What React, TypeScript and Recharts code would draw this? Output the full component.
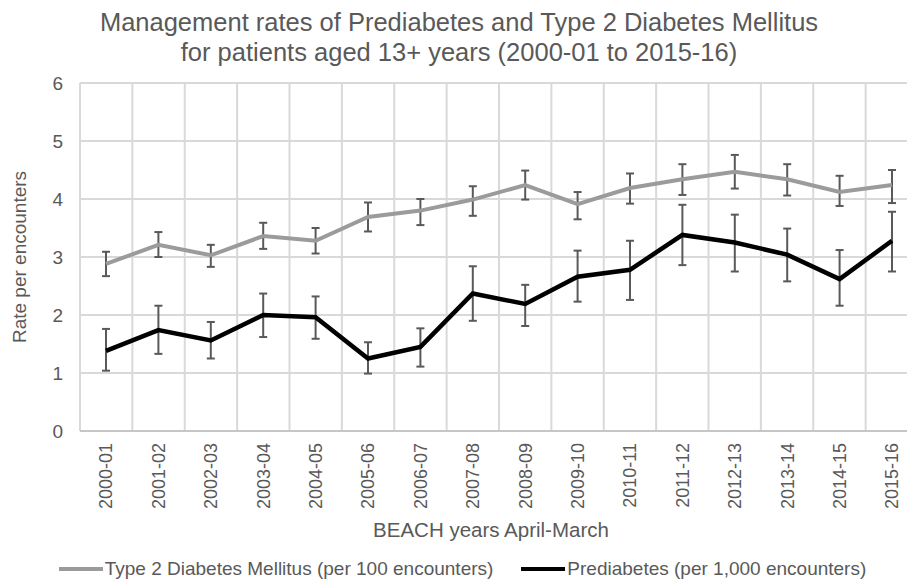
import React from 'react';
import { LineChart, Line, XAxis, YAxis, CartesianGrid, ErrorBar, Legend, Label } from 'recharts';

const years = ['2000-01','2001-02','2002-03','2003-04','2004-05','2005-06','2006-07','2007-08','2008-09','2009-10','2010-11','2011-12','2012-13','2013-14','2014-15','2015-16'];
const t2Rate = [2.88,3.21,3.03,3.36,3.28,3.69,3.80,3.99,4.24,3.91,4.19,4.34,4.47,4.34,4.12,4.24];
const t2Low = [2.67,3.00,2.83,3.14,3.06,3.44,3.55,3.71,3.99,3.65,3.92,4.07,4.18,4.06,3.88,3.93];
const t2High = [3.09,3.43,3.21,3.59,3.50,3.94,4.00,4.22,4.49,4.12,4.44,4.60,4.76,4.60,4.40,4.50];
const preRate = [1.38,1.74,1.56,2.00,1.96,1.25,1.45,2.37,2.19,2.66,2.78,3.38,3.25,3.04,2.62,3.28];
const preLow = [1.04,1.33,1.25,1.62,1.59,0.99,1.11,1.90,1.81,2.23,2.26,2.86,2.75,2.58,2.16,2.75];
const preHigh = [1.76,2.16,1.88,2.37,2.32,1.53,1.77,2.84,2.52,3.11,3.28,3.90,3.73,3.49,3.12,3.78];
const yTicks = [0, 1, 2, 3, 4, 5, 6];

const T2_NAME = 'Type 2 Diabetes Mellitus (per 100 encounters)';
const PRE_NAME = 'Prediabetes (per 1,000 encounters)';
const LEGEND_ORDER = [T2_NAME, PRE_NAME];
const TITLE_1 = 'Management rates of Prediabetes and Type 2 Diabetes Mellitus';
const TITLE_2 = 'for patients aged 13+ years (2000-01 to 2015-16)';
const X_TITLE = 'BEACH years April-March';
const Y_TITLE = 'Rate per encounters';

const data = years.map((y, i) => ({
  year: y,
  t2: t2Rate[i],
  t2Err: [t2Rate[i] - t2Low[i], t2High[i] - t2Rate[i]],
  pre: preRate[i],
  preErr: [preRate[i] - preLow[i], preHigh[i] - preRate[i]],
}));

const FONT = '"Liberation Sans", Arial, sans-serif';
const TXT = '#595959';

const XTick = (props: any) => {
  const { x, y, payload } = props;
  return (
    <text transform={`translate(${x},${y}) rotate(-90)`} textAnchor="end" dy="0.35em"
      fontSize={18} fill={TXT} fontFamily={FONT}>{payload.value}</text>
  );
};

const YTitle = (props: any) => {
  const vb = props.viewBox || {};
  const cy = vb.y + vb.height / 2;
  return (
    <text transform={`translate(26,${cy}) rotate(-90)`} textAnchor="middle" fontSize={19}
      fill={TXT} fontFamily={FONT}>{Y_TITLE}</text>
  );
};

const XTitle = (props: any) => {
  const vb = props.viewBox || {};
  const cx = vb.x + vb.width / 2 - 8;
  return (
    <text x={cx} y={537} textAnchor="middle" fontSize={20.5} fill={TXT} fontFamily={FONT}>{X_TITLE}</text>
  );
};

const LegendContent = (props: any) => {
  const items = [...(props.payload || [])].sort(
    (a: any, b: any) => LEGEND_ORDER.indexOf(a.value) - LEGEND_ORDER.indexOf(b.value)
  );
  return (
    <div style={{ display: 'flex', justifyContent: 'center', alignItems: 'center', width: '100%', fontFamily: FONT, fontSize: 19, color: TXT }}>
      {items.map((it: any, i: number) => (
        <div key={i} style={{ display: 'flex', alignItems: 'center', marginLeft: i === 0 ? 0 : 28 }}>
          <svg width={44} height={10} style={{ display: 'block' }}>
            <line x1={0} x2={44} y1={5} y2={5} stroke={it.color} strokeWidth={4} />
          </svg>
          <span style={{ marginLeft: 2, whiteSpace: 'nowrap' }}>{it.value}</span>
        </div>
      ))}
    </div>
  );
};

export default function App() {
  return (
    <div style={{ position: 'fixed', left: 0, top: 0, width: 907, height: 583, overflow: 'hidden', background: '#fff' }}>
      <div style={{ position: 'absolute', left: 0, top: 7, width: 918, textAlign: 'center', fontFamily: FONT, fontSize: 25.5, lineHeight: '30px', color: TXT, zIndex: 2 }}>
        <div>{TITLE_1}</div>
        <div>{TITLE_2}</div>
      </div>
      <LineChart width={930} height={583} data={data} margin={{ top: 83, right: 12, left: 0, bottom: 0 }}>
        <CartesianGrid stroke="#d9d9d9" strokeWidth={2}
          verticalCoordinatesGenerator={(p: any) => {
            const o = p.offset;
            return Array.from({ length: years.length + 1 }, (_, i) => o.left + (i * o.width) / years.length);
          }} />
        <XAxis dataKey="year" interval={0} height={152} tick={<XTick />} tickSize={0} tickMargin={12}
          axisLine={{ stroke: '#c6c6c6', strokeWidth: 2 }} padding={{ left: 26, right: 26 }}>
          <Label content={<XTitle />} />
        </XAxis>
        <YAxis width={80} domain={[0, 6]} ticks={yTicks} tickSize={0} tickMargin={17} axisLine={false}
          tick={{ fontSize: 19, fill: TXT, fontFamily: FONT }}>
          <Label content={<YTitle />} />
        </YAxis>
        <Line name={T2_NAME} dataKey="t2" stroke="#9b9b9b" strokeWidth={4} dot={false} activeDot={false} isAnimationActive={false}>
          <ErrorBar dataKey="t2Err" width={4} strokeWidth={2} stroke="#595959" direction="y" isAnimationActive={false} />
        </Line>
        <Line name={PRE_NAME} dataKey="pre" stroke="#000000" strokeWidth={4.5} dot={false} activeDot={false} isAnimationActive={false}>
          <ErrorBar dataKey="preErr" width={4} strokeWidth={2} stroke="#595959" direction="y" isAnimationActive={false} />
        </Line>
        <Legend verticalAlign="middle" layout="horizontal" align="center" content={<LegendContent />}
          wrapperStyle={{ top: 558, left: 0, width: 925 }} />
      </LineChart>
    </div>
  );
}
